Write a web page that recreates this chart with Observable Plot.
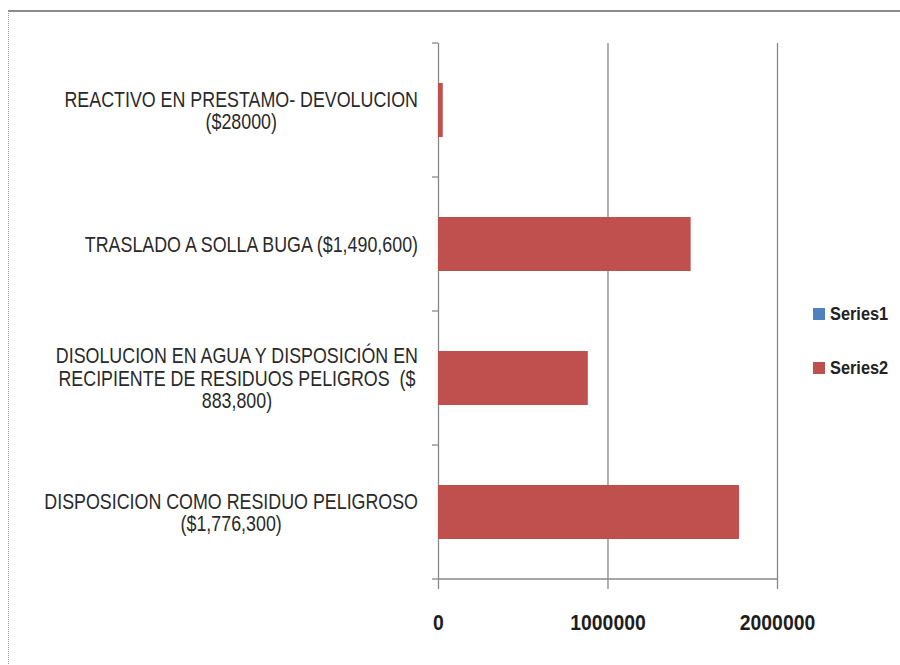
<!DOCTYPE html>
<html>
<head>
<meta charset="utf-8">
<script src="https://cdn.jsdelivr.net/npm/d3@7"></script>
<script src="https://cdn.jsdelivr.net/npm/@observablehq/plot@0.6"></script>
<style>
  html, body { margin: 0; padding: 0; background: #fff; }
  #wrap { position: relative; width: 900px; height: 665px; overflow: hidden; }
  #chart { position: absolute; left: 0; top: 0; }
  #frame { position: absolute; left: 8px; top: 10px; width: 900px; height: 700px;
           border-top: 2px solid #8c8c8c; border-left: 1px dotted #9a9a9a;
           box-sizing: border-box; pointer-events: none; }
  #legend { position: absolute; left: 813px; top: 287px; }
  #legend, #legend * { font-family: 'Liberation Sans', Arial, sans-serif !important;
                       font-size: 19px !important; font-weight: bold !important; color: #222 !important; }
  #legend .lg-swatch { height: 54px !important; margin: 0 !important; padding: 0 !important;
                       display: flex !important; align-items: center !important; }
  #legend .lg-swatch svg { margin-right: 5px !important; flex: none; }
  #legend .lg-swatch > div, #legend .lg-swatch > span { display: inline-block; transform: scaleX(0.86); transform-origin: left center; overflow: visible !important; }
  #legend > div, #legend .lg-swatches { margin: 0 !important; }
</style>
</head>
<body>
<div id="wrap">
  <div id="chart"></div>
  <div id="frame"></div>
  <div id="legend"></div>
</div>
<script>
// ---- data ----
const categories = [
  "REACTIVO EN PRESTAMO- DEVOLUCION\n($28000)",
  "TRASLADO A SOLLA BUGA ($1,490,600)",
  "DISOLUCION EN AGUA Y DISPOSICIÓN EN\nRECIPIENTE DE RESIDUOS PELIGROS  ($\n883,800)",
  "DISPOSICION COMO RESIDUO PELIGROSO\n($1,776,300)"
];
const series2Values = [28000, 1490600, 883800, 1776300];
const seriesNames = ["Series1", "Series2"];
const seriesColors = ["#4F81BD", "#C0504D"];
const xTicks = [0, 1000000, 2000000];

// ---- build ----
const rows = categories.map((c, i) => ({category: c, value: series2Values[i], series: seriesNames[1]}));
const labelFont = "'Liberation Sans', Arial, sans-serif";
const axisColor = "#888888";

function yAxisDecor(index, scales) {
  const y = scales.y, x = scales.x;
  const dom = y.domain();
  const bw = y.bandwidth();
  const step = y.step();
  const x0 = x(xTicks[0]);
  const x1 = x(xTicks[xTicks.length - 1]);
  const bounds = dom.map(c => y(c) + bw / 2 - step / 2);
  bounds.push(y(dom[dom.length - 1]) + bw / 2 + step / 2);
  const g = d3.create("svg:g").attr("stroke", axisColor).attr("stroke-width", 1.3);
  for (const b of bounds) {
    g.append("line").attr("x1", x0 - 6).attr("x2", x0).attr("y1", b).attr("y2", b);
  }
  const yb = bounds[bounds.length - 1];
  g.append("line").attr("x1", x0).attr("x2", x1).attr("y1", yb).attr("y2", yb);
  return g.node();
}

const chart = Plot.plot({
  width: 900,
  height: 665,
  marginLeft: 438,
  marginRight: 123,
  marginTop: 43,
  marginBottom: 86,
  style: {fontFamily: labelFont, background: "transparent", overflow: "visible"},
  x: {domain: [0, 2000000], label: null},
  y: {domain: categories, paddingInner: 0.6, paddingOuter: 0.3, axis: null},
  color: {domain: seriesNames, range: seriesColors},
  marks: [
    Plot.ruleX(xTicks, {stroke: axisColor, strokeWidth: 1.3}),
    Plot.barX(rows, {y: "category", x: "value", fill: "series"}),
    yAxisDecor,
    Plot.axisX({
      ticks: xTicks,
      tickFormat: d => String(d),
      tickSize: 10,
      tickPadding: 25,
      label: null,
      stroke: axisColor,
      strokeWidth: 1.3,
      fill: "#1e1e1e",
      fontSize: 22,
      fontWeight: "bold",
      fontFamily: labelFont
    }),
    Plot.text(categories, {
      y: d => d,
      x: 0,
      dx: -20,
      textAnchor: "middle",
      lineAnchor: "middle",
      lineHeight: 1.03,
      fontSize: 21.5,
      fontFamily: labelFont,
      fill: "#2a2a2a"
    })
  ]
});

document.getElementById("chart").append(chart);

// narrow the texts horizontally (the reference uses a condensed rendering)
chart.querySelectorAll('g[aria-label="x-axis tick label"] text').forEach(t => {
  t.setAttribute("transform", (t.getAttribute("transform") || "") + " scale(0.88,1)");
});

// center each multi-line label block, with its widest line ending just left of the axis
const svgRect = chart.getBoundingClientRect();
const rightEdge = chart.scale("x").apply(0) - 20;
chart.querySelectorAll('g[aria-label="text"]').forEach(g => {
  g.style.whiteSpace = "pre";
  g.querySelectorAll(":scope > text").forEach(t => {
    const base = (t.getAttribute("transform") || "") + " scale(0.83,1)";
    t.setAttribute("transform", base);
    const r = t.getBoundingClientRect();
    const shift = (svgRect.left + rightEdge) - r.right;
    t.setAttribute("transform", `translate(${shift},0) ` + base);
  });
});

const legend = chart.legend("color", {columns: 1, swatchSize: 12, className: "lg"});
document.getElementById("legend").append(legend);
</script>
</body>
</html>
